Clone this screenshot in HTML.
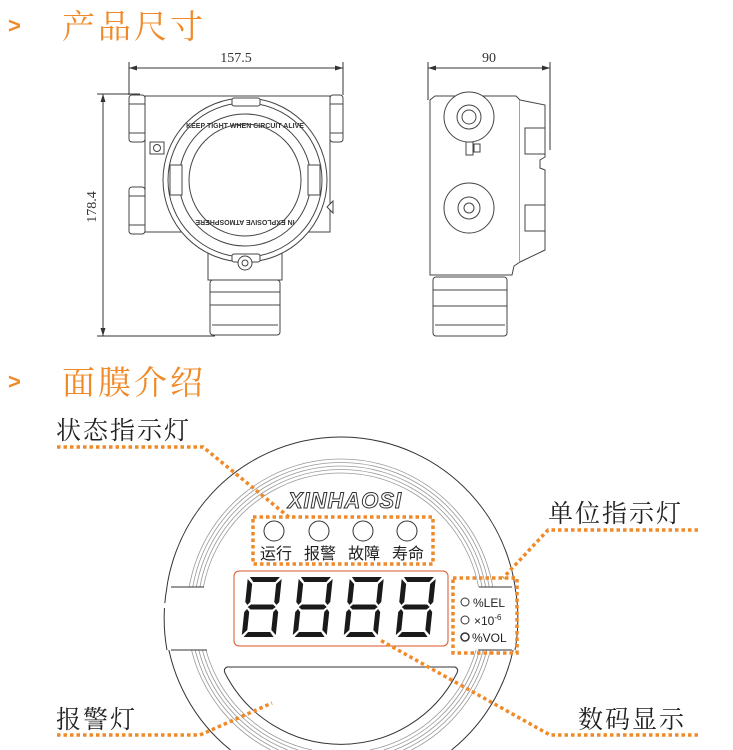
<!DOCTYPE html>
<html><head><meta charset="utf-8"><style>
html,body{margin:0;padding:0;background:#fff;width:733px;height:750px;overflow:hidden;}
svg{display:block;}
</style></head><body>
<svg width="733" height="750" viewBox="0 0 733 750" xmlns="http://www.w3.org/2000/svg">
<defs>
<g id="dig" transform="skewX(-6)" fill="#1a1a1a">
<polygon points="4,1 34,1 30,6 8,6"/>
<polygon points="5,31 8,28.5 30,28.5 33,31 30,33.5 8,33.5"/>
<polygon points="4,61 34,61 30,56 8,56"/>
<polygon points="2,3 7,8 7,26 4.5,29 2,26"/>
<polygon points="36,3 36,26 33.5,29 31,26 31,8"/>
<polygon points="2,36 4.5,33 7,36 7,54 2,59"/>
<polygon points="36,36 33.5,33 31,36 31,54 36,59"/>
</g>
</defs>

<text x="8" y="33" font-family="Liberation Sans, sans-serif" font-weight="bold" font-size="22" fill="#f08a28">&gt;</text>
<text x="62" y="38" font-family="Liberation Serif, 'Noto Serif CJK SC', serif" font-size="33" fill="#f08a28" letter-spacing="3">产品尺寸</text>
<text x="8" y="389" font-family="Liberation Sans, sans-serif" font-weight="bold" font-size="22" fill="#f08a28">&gt;</text>
<text x="62" y="394" font-family="Liberation Serif, 'Noto Serif CJK SC', serif" font-size="33" fill="#f08a28" letter-spacing="3">面膜介绍</text>

<g stroke="#333" stroke-width="1" fill="none">
<line x1="129" y1="62" x2="129" y2="95"/><line x1="343" y1="62" x2="343" y2="95"/>
<line x1="129" y1="68" x2="343" y2="68"/>
<line x1="97" y1="94" x2="140" y2="94"/><line x1="97" y1="336" x2="215" y2="336"/>
<line x1="103" y1="94" x2="103" y2="336"/>
<line x1="428" y1="62" x2="428" y2="100"/><line x1="550" y1="62" x2="550" y2="150"/>
<line x1="428" y1="68" x2="550" y2="68"/>
</g>
<g fill="#333">
<polygon points="129,68 137,65.5 137,70.5"/><polygon points="343,68 335,65.5 335,70.5"/>
<polygon points="103,94 100.5,102 105.5,102"/><polygon points="103,336 100.5,328 105.5,328"/>
<polygon points="428,68 436,65.5 436,70.5"/><polygon points="550,68 542,65.5 542,70.5"/>
</g>
<text x="236" y="62" text-anchor="middle" font-family="Liberation Serif, serif" font-size="14" fill="#333">157.5</text>
<text x="489" y="62" text-anchor="middle" font-family="Liberation Serif, serif" font-size="14" fill="#333">90</text>
<text transform="translate(96,207) rotate(-90)" text-anchor="middle" font-family="Liberation Serif, serif" font-size="14" fill="#333">178.4</text>

<g stroke="#444" stroke-width="1" fill="#fff">
<rect x="145" y="96" width="185" height="136"/>
<rect x="129" y="95" width="16" height="47" rx="3"/>
<rect x="129" y="187" width="16" height="47" rx="3"/>
<rect x="330" y="95" width="13" height="47" rx="3"/>
<line x1="129" y1="104" x2="145" y2="104"/><line x1="129" y1="133" x2="145" y2="133"/>
<line x1="129" y1="196" x2="145" y2="196"/><line x1="129" y1="225" x2="145" y2="225"/>
<line x1="330" y1="104" x2="343" y2="104"/><line x1="330" y1="133" x2="343" y2="133"/>
<rect x="208" y="232" width="74" height="48"/>
<rect x="210" y="280" width="70" height="55" rx="3"/>
<line x1="210" y1="292" x2="280" y2="292"/><line x1="210" y1="305" x2="280" y2="305"/><line x1="212" y1="325" x2="278" y2="325"/>
<rect x="150" y="142" width="14" height="12"/>
<circle cx="157" cy="148" r="3.5"/>
<circle cx="245" cy="180" r="82"/>
<circle cx="245" cy="180" r="77"/>
<circle cx="245" cy="180" r="66"/>
<circle cx="245" cy="180" r="56"/>
<rect x="232" y="98" width="28" height="8" rx="2"/>
<rect x="232" y="254" width="28" height="8" rx="2"/>
<rect x="170" y="165" width="12" height="30"/><rect x="308" y="165" width="12" height="30"/>
<circle cx="245" cy="263" r="7"/><circle cx="245" cy="263" r="3"/>
<path d="M327 207 l6 -6 l0 12 z"/>
</g>
<text x="245" y="128" text-anchor="middle" font-family="Liberation Sans, sans-serif" font-weight="bold" font-size="7" fill="#333">KEEP TIGHT WHEN CIRCUIT ALIVE</text>
<text transform="translate(245,220) rotate(180)" text-anchor="middle" font-family="Liberation Sans, sans-serif" font-weight="bold" font-size="7" fill="#333">IN EXPLOSIVE ATMOSPHERE</text>

<g stroke="#444" stroke-width="1" fill="#fff">
<path d="M430 100 L435 96 L516 96 L520 100 L520 262 L514 266 L512 275 L430 275 Z"/>
<path d="M520 100 L545 105 L545 157 L540 160 L540 168 L545 170 L545 250 L520 262"/>
<rect x="525" y="128" width="20" height="26"/>
<rect x="525" y="205" width="20" height="26"/>
<circle cx="469" cy="117" r="25"/><circle cx="469" cy="117" r="12"/><circle cx="469" cy="117" r="7"/>
<rect x="466" y="142" width="7" height="13"/><rect x="474" y="144" width="6" height="8"/>
<circle cx="469" cy="208" r="25"/><circle cx="469" cy="208" r="11"/><circle cx="469" cy="208" r="5"/>
<rect x="433" y="277" width="74" height="59" rx="3"/>
<line x1="433" y1="290" x2="507" y2="290"/><line x1="433" y1="306" x2="507" y2="306"/><line x1="435" y1="325" x2="505" y2="325"/>
</g>

<!-- big panel (arcs truncated at y=750) -->
<g fill="none">
<path d="M230.5 750 A176 176 0 1 1 451.5 750" stroke="#333" stroke-width="1"/>
<g stroke="#999" stroke-width="0.8">
<path d="M312.2 750 A140 140 0 1 1 369.8 750"/>
<path d="M298.3 750 A143.5 143.5 0 1 1 383.7 750"/>
<path d="M287.7 750 A147 147 0 1 1 394.3 750"/>
<path d="M278.7 750 A150.5 150.5 0 1 1 403.3 750"/>
<path d="M270.6 750 A154 154 0 1 1 411.4 750"/>
</g>
</g>
<rect x="160" y="587" width="70" height="63" fill="#fff"/>
<rect x="455" y="587" width="70" height="63" fill="#fff"/>
<g stroke="#333" stroke-width="1" fill="none">
<path d="M171 587 L204 587 M171 650 L207 650"/>
<path d="M479 587 L512 587 M478 650 L512 650"/>
<path d="M167 587 A176 176 0 0 0 167 650"/>
<path d="M515 587 A176 176 0 0 1 515 650"/>
<path d="M227 667 L455 667 Q459 669 457 673 A130 130 0 0 1 225 673 Q223 669 227 667 Z"/>
</g>
<rect x="163" y="603" width="4" height="5" fill="#fff"/>

<text x="345" y="508" text-anchor="middle" font-family="Liberation Sans, sans-serif" font-style="italic" font-weight="bold" font-size="22" fill="#fff" stroke="#333" stroke-width="1" letter-spacing="1">XINHAOSI</text>

<g stroke="#333" stroke-width="1" fill="#fff">
<circle cx="274" cy="531" r="10"/><circle cx="319" cy="531" r="10"/><circle cx="363" cy="531" r="10"/><circle cx="407" cy="531" r="10"/>
</g>
<g font-family="Liberation Sans, 'Noto Sans CJK SC', sans-serif" font-size="16" fill="#222">
<text x="260" y="559">运行</text><text x="304" y="559">报警</text><text x="348" y="559">故障</text><text x="392" y="559">寿命</text>
</g>

<rect x="234" y="571" width="214" height="75" rx="5" fill="#fff" stroke="#d9532a" stroke-width="1"/>
<use href="#dig" x="246" y="576"/><use href="#dig" x="297" y="576"/><use href="#dig" x="348" y="576"/><use href="#dig" x="400" y="576"/>

<g stroke="#333" stroke-width="1" fill="#fff">
<circle cx="465" cy="602" r="4"/><circle cx="465" cy="620" r="4"/><circle cx="465" cy="637" r="4" stroke-width="1.5"/>
</g>
<g font-family="Liberation Sans, sans-serif" font-size="12" fill="#222">
<text x="473" y="607">%LEL</text>
<text x="474" y="625">×10<tspan font-size="8" dy="-5">-6</tspan></text>
<text x="472" y="642">%VOL</text>
</g>

<g stroke="#f08a28" stroke-width="3.5" stroke-dasharray="3.5 3" fill="none">
<rect x="253" y="517" width="180" height="47"/>
<rect x="453" y="578" width="64" height="75"/>
<polyline points="57,447 203,447 290,518"/>
<polyline points="698,530 548,530 503,578"/>
<polyline points="57,735 200,735 272,703"/>
<polyline points="698,735 550,735 380,640"/>
</g>

<g font-family="Liberation Serif, 'Noto Serif CJK SC', serif" font-size="25" fill="#222" letter-spacing="2">
<text x="56" y="439">状态指示灯</text>
<text x="548" y="522">单位指示灯</text>
<text x="56" y="728">报警灯</text>
<text x="578" y="728">数码显示</text>
</g>
</svg>
</body></html>
